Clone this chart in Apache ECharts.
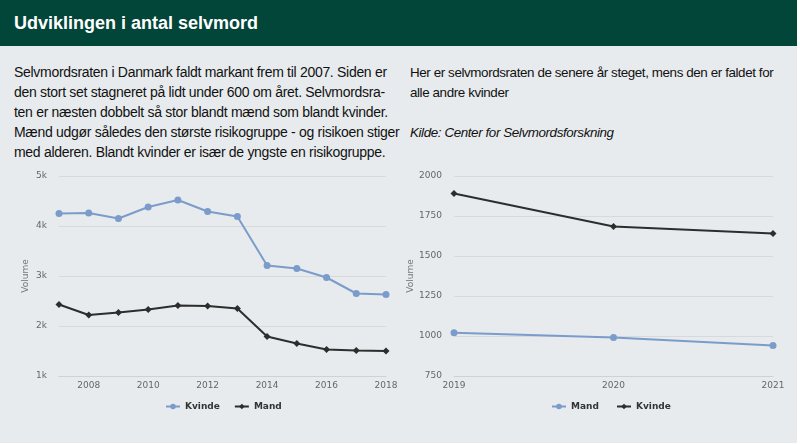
<!DOCTYPE html>
<html>
<head>
<meta charset="utf-8">
<script src="https://cdn.jsdelivr.net/npm/echarts@6/dist/echarts.min.js"></script>
<style>
  html, body { margin: 0; padding: 0; background: #fff; }
  #panel { position: absolute; left: 0; top: 1; width: 797px; height: 443px; background: #e7ebed; overflow: hidden; }
  #head { position: absolute; left: 0; top: 0; width: 797px; height: 46px; background: #024539; }
  #head h1 { margin: 0; position: absolute; left: 14px; top: 13px; font: bold 18px "Liberation Sans", Arial, sans-serif; color: #fff; }
  .txt { position: absolute; font: 14px/20px "Liberation Sans", Arial, sans-serif; color: #111; letter-spacing: -0.3px; white-space: nowrap; }
  #t1 { left: 14px; top: 62px; }
  #t2 { left: 410px; top: 63px; font-size: 13.4px; letter-spacing: -0.4px; }
  #chart { position: absolute; left: 0; top: 159px; width: 797px; height: 284px; }
</style>
</head>
<body>
<div id="panel">
  <div id="head"><h1>Udviklingen i antal selvmord</h1></div>
  <div class="txt" id="t1">Selvmordsraten i Danmark faldt markant frem til 2007. Siden er<br>den stort set stagneret på lidt under 600 om året. Selvmordsra-<br>ten er næsten dobbelt så stor blandt mænd som blandt kvinder.<br>Mænd udgør således den største risikogruppe - og risikoen stiger<br>med alderen. Blandt kvinder er især de yngste en risikogruppe.</div>
  <div class="txt" id="t2">Her er selvmordsraten de senere år steget, mens den er faldet for<br>alle andre kvinder<br><br><i>Kilde: Center for Selvmordsforskning</i></div>
  <div id="chart"></div>
</div>
<script>
// venstre graf: 2007-2018
var years1 = ['2007','2008','2009','2010','2011','2012','2013','2014','2015','2016','2017','2018'];
var kvinde1 = [4250, 4260, 4150, 4380, 4520, 4290, 4190, 3210, 3150, 2970, 2650, 2630];
var mand1 = [2430, 2220, 2270, 2330, 2410, 2400, 2350, 1790, 1650, 1530, 1510, 1500];
// hoejre graf: 2019-2021
var years2 = ['2019','2020','2021'];
var mand2 = [1020, 990, 940];
var kvinde2 = [1890, 1685, 1640];

var blue = '#7b9ccb';
var black = '#2d2d2d';
var font = 'DejaVu Sans';

var chart = echarts.init(document.getElementById('chart'));

function yAxis(idx, min, max, step, fmt, gap) {
  return {
    type: 'value', gridIndex: idx, min: min, max: max, interval: step,
    name: 'Volume', nameLocation: 'middle', nameGap: gap, nameRotate: 90,
    nameTextStyle: { color: '#777', fontSize: 9, fontFamily: font },
    axisLabel: { color: '#666', fontSize: 9, fontFamily: font, margin: 12, formatter: fmt },
    splitLine: { lineStyle: { color: '#d6dadc' } },
    axisLine: { show: false }, axisTick: { show: false }
  };
}
function xAxis(idx, data, every) {
  return {
    type: 'category', gridIndex: idx, data: data, boundaryGap: false,
    axisLabel: {
      color: '#666', fontSize: 9, fontFamily: font, margin: 5,
      interval: every ? function (i, v) { return (+v) % 2 === 0; } : 0
    },
    axisLine: { lineStyle: { color: '#ccd3d6' } },
    axisTick: { show: false }
  };
}
function line(name, data, color, symbol, size, xi) {
  return {
    name: name, type: 'line', data: data, xAxisIndex: xi, yAxisIndex: xi,
    color: color, symbol: symbol, symbolSize: size, showAllSymbol: true,
    lineStyle: { width: 2, color: color }, itemStyle: { color: color },
    animation: false
  };
}

var option = {
  backgroundColor: 'transparent',
  grid: [
    { left: 59, top: 17, width: 327, height: 200 },
    { left: 454, top: 17, width: 319, height: 200 }
  ],
  xAxis: [xAxis(0, years1, true), xAxis(1, years2, false)],
  yAxis: [
    yAxis(0, 1000, 5000, 1000, function (v) { return (v / 1000) + 'k'; }, 29),
    yAxis(1, 750, 2000, 250, function (v) { return String(v); }, 39)
  ],
  legend: [
    { data: ['Kvinde', 'Mand'], left: 160, top: 238, itemWidth: 14, itemHeight: 7, itemGap: 14,
      textStyle: { fontWeight: 'bold', fontSize: 9, color: '#333', fontFamily: font } },
    { data: ['Mand ', 'Kvinde '], left: 546, top: 238, itemWidth: 14, itemHeight: 7, itemGap: 14,
      textStyle: { fontWeight: 'bold', fontSize: 9, color: '#333', fontFamily: font } }
  ],
  series: [
    line('Kvinde', kvinde1, blue, 'circle', 7, 0),
    line('Mand', mand1, black, 'diamond', 7, 0),
    line('Mand ', mand2, blue, 'circle', 7, 1),
    line('Kvinde ', kvinde2, black, 'diamond', 7, 1)
  ]
};
chart.setOption(option);
</script>
</body>
</html>
